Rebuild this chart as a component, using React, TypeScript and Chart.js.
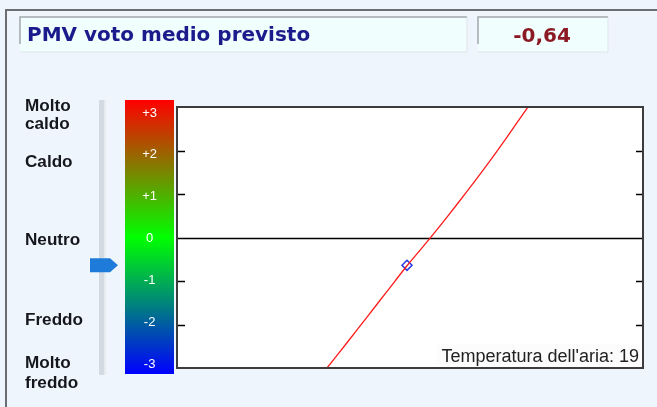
import React, { useEffect, useRef } from "react";
import { Chart, registerables } from "chart.js";

Chart.register(...registerables);

// ---- data ----
const TITLE = "PMV voto medio previsto";
const PMV_TEXT = "-0,64";
const PMV_VALUE = -0.64;
const AIR_TEMP = 19;
const TEMP_LABEL = "Temperatura dell'aria: ";
const SCALE_VALUES = [3, 2, 1, 0, -1, -2, -3];
const SCALE_LABELS = ["+3", "+2", "+1", "0", "-1", "-2", "-3"];
const COMFORT_LABELS = [["Molto", "caldo"], ["Caldo"], ["Neutro"], ["Freddo"], ["Molto", "freddo"]];
const CURVE_TEMPS = [10, 11, 13, 15, 17, 19, 21, 23, 25, 27, 29, 31, 32];
const CURVE_PMV = [-3.29, -3.0, -2.42, -1.83, -1.24, -0.65, -0.1, 0.47, 1.06, 1.67, 2.31, 2.97, 3.31];

// ---- layout (not data) ----
const W = 657;
const H = 407;
const COMFORT_BASELINES = [[111, 129], [167], [245], [325], [368, 388]];

const decorPlugin = {
  id: "decor",
  beforeDraw(chart: any) {
    const { ctx, chartArea } = chart;
    const y = chart.scales.y;
    ctx.save();
    ctx.fillStyle = "#eef5fc";
    ctx.fillRect(0, 0, W, H);
    ctx.strokeStyle = "#6b6f73";
    ctx.lineWidth = 2;
    ctx.beginPath();
    ctx.moveTo(6, H);
    ctx.lineTo(6, 10);
    ctx.lineTo(W, 10);
    ctx.stroke();

    const box = (x0: number, y0: number, w: number, h: number) => {
      ctx.fillStyle = "#f0fefe";
      ctx.fillRect(x0, y0, w, h);
      ctx.strokeStyle = "#a3a8ad";
      ctx.lineWidth = 1.5;
      ctx.beginPath();
      ctx.moveTo(x0, y0 + h - 8);
      ctx.lineTo(x0, y0);
      ctx.lineTo(x0 + w, y0);
      ctx.stroke();
      ctx.strokeStyle = "#dfe5ea";
      ctx.lineWidth = 1;
      ctx.beginPath();
      ctx.moveTo(x0 + w, y0);
      ctx.lineTo(x0 + w, y0 + h);
      ctx.lineTo(x0, y0 + h);
      ctx.stroke();
    };
    box(20, 17, 447, 35);
    box(478, 17, 130, 35);
    ctx.font = "bold 20px 'DejaVu Sans'";
    ctx.textBaseline = "alphabetic";
    ctx.textAlign = "left";
    ctx.fillStyle = "#1b1b8c";
    ctx.fillText(TITLE, 27, 41);
    ctx.textAlign = "center";
    ctx.fillStyle = "#8c1a24";
    ctx.fillText(PMV_TEXT, 542, 42);

    ctx.fillStyle = "#d4dae1";
    ctx.fillRect(99, 100, 6, 275);
    ctx.fillStyle = "#e6ebf0";
    ctx.fillRect(104, 100, 2, 275);

    ctx.font = "bold 16px 'Liberation Sans'";
    ctx.textAlign = "left";
    ctx.fillStyle = "#16161e";
    COMFORT_LABELS.forEach((lines, i) => {
      lines.forEach((t, j) => {
        ctx.save();
        ctx.translate(25, COMFORT_BASELINES[i][j]);
        ctx.scale(1.07, 1);
        ctx.fillText(t, 0, 0);
        ctx.restore();
      });
    });

    ctx.fillStyle = "#ffffff";
    ctx.fillRect(chartArea.left, chartArea.top, chartArea.right - chartArea.left, chartArea.bottom - chartArea.top);

    const top = y.getPixelForValue(SCALE_VALUES[0]) - 7;
    const bottom = y.getPixelForValue(SCALE_VALUES[SCALE_VALUES.length - 1]) + 6;
    const mid = y.getPixelForValue(0);
    const g = ctx.createLinearGradient(0, top, 0, bottom);
    g.addColorStop(0, "#ff0000");
    g.addColorStop((mid - top) / (bottom - top), "#00ff00");
    g.addColorStop(1, "#0000ff");
    ctx.fillStyle = g;
    ctx.fillRect(125, top, 49, bottom - top);
    ctx.restore();
  },
  beforeDatasetsDraw(chart: any) {
    const { ctx, chartArea } = chart;
    const y = chart.scales.y;
    ctx.save();
    ctx.strokeStyle = "#000000";
    ctx.lineWidth = 1.5;
    const y0 = Math.round(y.getPixelForValue(0)) + 0.5;
    ctx.beginPath();
    ctx.moveTo(chartArea.left, y0);
    ctx.lineTo(chartArea.right, y0);
    ctx.stroke();
    SCALE_VALUES.filter((v) => v !== 0 && Math.abs(v) < 3).forEach((v) => {
      const py = Math.round(y.getPixelForValue(v)) + 0.5;
      ctx.beginPath();
      ctx.moveTo(chartArea.left, py);
      ctx.lineTo(chartArea.left + 8, py);
      ctx.moveTo(chartArea.right - 7, py);
      ctx.lineTo(chartArea.right, py);
      ctx.stroke();
    });
    ctx.restore();
  },
  afterDatasetsDraw(chart: any) {
    const { ctx, chartArea } = chart;
    const y = chart.scales.y;
    ctx.save();
    ctx.font = "18px 'Liberation Sans'";
    ctx.textAlign = "right";
    ctx.textBaseline = "alphabetic";
    const txt = TEMP_LABEL + AIR_TEMP;
    const tw = ctx.measureText(txt).width;
    ctx.fillStyle = "rgba(252,252,252,0.9)";
    ctx.fillRect(chartArea.right - 6 - tw - 3, chartArea.bottom - 24, tw + 6, 21);
    ctx.fillStyle = "#222222";
    ctx.fillText(txt, chartArea.right - 4, chartArea.bottom - 6);
    ctx.strokeStyle = "#3c3c3c";
    ctx.lineWidth = 2;
    ctx.strokeRect(chartArea.left, chartArea.top, chartArea.right - chartArea.left, chartArea.bottom - chartArea.top);
    const py = y.getPixelForValue(PMV_VALUE);
    ctx.fillStyle = "#1f7bd9";
    ctx.beginPath();
    ctx.moveTo(90, py - 7);
    ctx.lineTo(110, py - 7);
    ctx.lineTo(118, py);
    ctx.lineTo(110, py + 7);
    ctx.lineTo(90, py + 7);
    ctx.closePath();
    ctx.fill();
    ctx.restore();
  },
};

export default function App() {
  const ref = useRef<HTMLCanvasElement | null>(null);
  useEffect(() => {
    if (!ref.current) return;
    const chart = new Chart(ref.current, {
      type: "line",
      data: {
        datasets: [
          {
            data: CURVE_TEMPS.map((t, i) => ({ x: t, y: CURVE_PMV[i] })),
            borderColor: "#ff1a1a",
            borderWidth: 1.3,
            pointRadius: 0,
            tension: 0.3,
            xAxisID: "x",
            yAxisID: "y",
          },
          {
            data: [{ x: AIR_TEMP, y: PMV_VALUE }],
            showLine: false,
            pointStyle: "rectRot",
            pointRadius: 5,
            pointBorderWidth: 1.5,
            pointBorderColor: "#2a3ae0",
            pointBackgroundColor: "rgba(255,255,255,0.5)",
            xAxisID: "x",
            yAxisID: "y",
          },
        ],
      },
      options: {
        responsive: false,
        animation: false,
        devicePixelRatio: 1,
        events: [],
        layout: { padding: { left: 125, top: 107, right: 14, bottom: 39 } },
        plugins: { legend: { display: false }, tooltip: { enabled: false } },
        scales: {
          x: { type: "linear", min: -4, max: 42.6, display: false },
          y: { type: "linear", min: -3, max: 3, display: false },
          yBar: {
            type: "linear",
            position: "left",
            min: -3.096,
            max: 3.143,
            afterBuildTicks: (s: any) => {
              s.ticks = SCALE_VALUES.map((v) => ({ value: v }));
            },
            afterFit: (s: any) => {
              s.width = 52;
            },
            grid: { display: false, drawTicks: false },
            border: { display: false },
            ticks: {
              color: "#ffffff",
              font: { family: "'Liberation Sans'", size: 13 },
              crossAlign: "center",
              padding: 20,
              callback: (v: any) => SCALE_LABELS[SCALE_VALUES.indexOf(Number(v))] ?? "",
            },
          },
        },
      },
      plugins: [decorPlugin],
    } as any);
    return () => chart.destroy();
  }, []);
  return (
    <div style={{ position: "fixed", left: 0, top: 0, width: W, height: H, background: "#eef5fc" }}>
      <canvas ref={ref} width={W} height={H} style={{ display: "block", width: W, height: H }} />
    </div>
  );
}
